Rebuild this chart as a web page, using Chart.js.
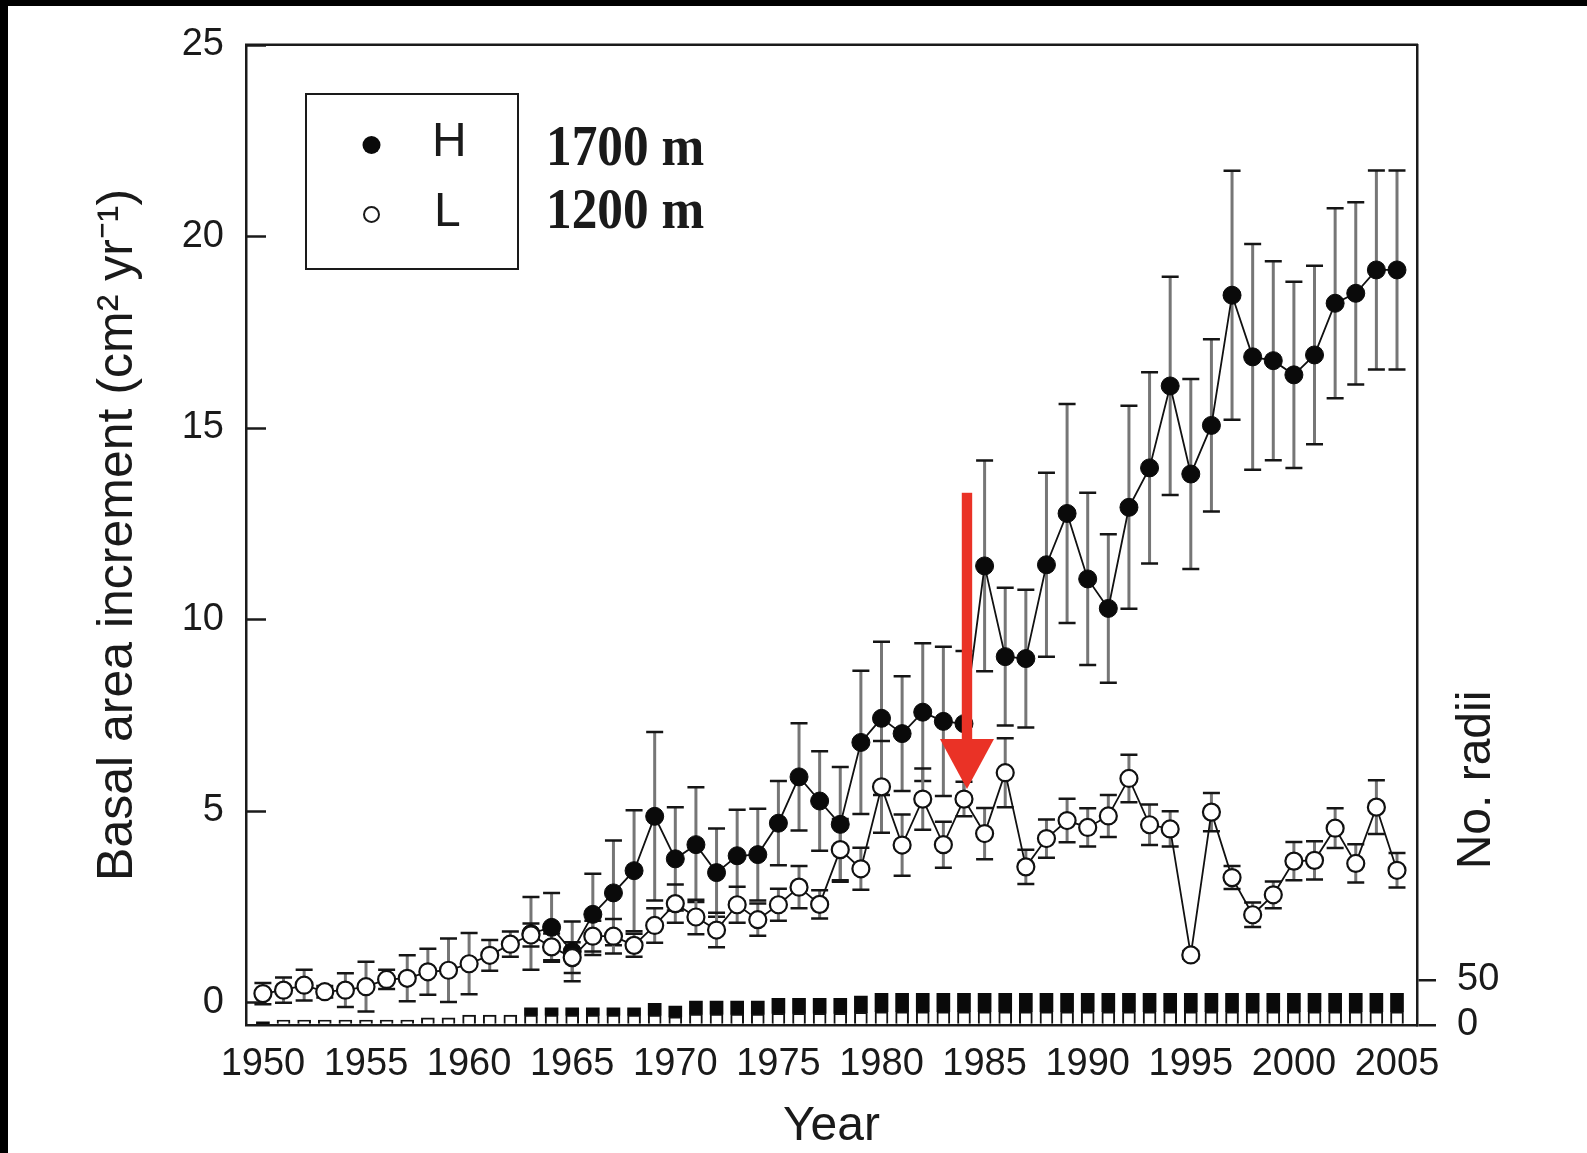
<!DOCTYPE html>
<html><head><meta charset="utf-8">
<script src="https://cdn.jsdelivr.net/npm/chart.js@4.4.1/dist/chart.umd.min.js"></script>
<style>
html,body{margin:0;padding:0;background:#fff;overflow:hidden;}
#wrap{position:relative;width:1587px;height:1153px;}
</style></head><body>
<div id="wrap"><canvas id="c" width="1587" height="1153"></canvas></div>
<script>
// ---------- data ----------
const years = [1950,1951,1952,1953,1954,1955,1956,1957,1958,1959,
  1960,1961,1962,1963,1964,1965,1966,1967,1968,1969,
  1970,1971,1972,1973,1974,1975,1976,1977,1978,1979,
  1980,1981,1982,1983,1984,1985,1986,1987,1988,1989,
  1990,1991,1992,1993,1994,1995,1996,1997,1998,1999,
  2000,2001,2002,2003,2004,2005];
const lowMean = [0.22,0.31,0.44,0.27,0.31,0.40,0.59,0.62,0.79,0.83,
  1.00,1.22,1.51,1.75,1.44,1.16,1.72,1.72,1.48,2.00,
  2.57,2.22,1.88,2.54,2.15,2.54,3.00,2.55,3.98,3.48,
  5.62,4.10,5.30,4.11,5.30,4.40,5.99,3.53,4.27,4.74,
  4.56,4.86,5.84,4.63,4.52,1.23,4.96,3.25,2.28,2.80,
  3.68,3.70,4.54,3.62,5.09,3.44];
const lowErr = [0.28,0.33,0.40,0.15,0.44,0.65,0.25,0.60,0.60,0.83,
  0.80,0.40,0.33,0.30,0.35,0.40,0.40,0.45,0.30,0.45,
  0.50,0.45,0.45,0.47,0.42,0.42,0.55,0.37,0.80,0.55,
  1.20,0.80,0.80,0.60,0.45,0.67,0.90,0.45,0.50,0.57,
  0.50,0.55,0.62,0.53,0.46,0.10,0.50,0.30,0.32,0.35,
  0.50,0.50,0.52,0.50,0.70,0.45];
const highYears = [1963,1964,1965,1966,1967,1968,1969,
  1970,1971,1972,1973,1974,1975,1976,1977,1978,1979,
  1980,1981,1982,1983,1984,1985,1986,1987,1988,1989,
  1990,1991,1992,1993,1994,1995,1996,1997,1998,1999,
  2000,2001,2002,2003,2004,2005];
const highMean = [1.79,1.95,1.32,2.29,2.85,3.43,4.85,
  3.74,4.11,3.38,3.82,3.85,4.67,5.88,5.25,4.64,6.78,
  7.41,7.01,7.57,7.33,7.27,11.39,9.02,8.97,11.42,12.76,
  11.05,10.28,12.92,13.95,16.09,13.79,15.06,18.46,16.85,16.75,
  16.38,16.90,18.25,18.51,19.12,19.12];
const highErr = [0.95,0.90,0.78,1.06,1.37,1.58,2.20,
  1.35,1.50,1.15,1.20,1.20,1.10,1.40,1.30,1.50,1.87,
  2.00,1.50,1.80,1.95,1.90,2.75,1.80,1.80,2.40,2.86,
  2.25,1.94,2.65,2.50,2.85,2.48,2.25,3.25,2.95,2.60,
  2.43,2.33,2.48,2.38,2.60,2.60];
// number of radii per year (stacked: L white below, H black above)
const radiiLow = [null,5.5,5.5,5.5,5.5,5.5,5.5,5.5,8,8,
  11,11,11,11,11,11,11,11,11,11,
  9,12,12,12,12,13,13,13,13,14,
  14.7,14.7,14.7,14.7,14.7,14.7,14.7,14.7,14.7,14.7,
  14.7,14.7,14.7,14.7,14.7,14.7,14.7,14.7,14.7,14.7,
  14.7,14.7,14.7,14.7,14.7,14.7];
const radiiHigh = [3.5,null,null,null,null,null,null,null,null,null,
  null,null,null,8,8,8,8,8,8,13,
  12,14.5,14.5,14.5,14.5,16.4,16.4,16.4,16.4,18,
  20.3,20.3,20.3,20.3,20.3,20.3,20.3,20.3,20.3,20.3,
  20.3,20.3,20.3,20.3,20.3,20.3,20.3,20.3,20.3,20.3,
  20.3,20.3,20.3,20.3,20.3,20.3];
const xTickYears = [1950,1955,1960,1965,1970,1975,1980,1985,1990,1995,2000,2005];
const yTicks = [0,5,10,15,20,25];
const radiiTicks = [0,50];
const legendSites = ['1700 m','1200 m'];
const arrowYear = 1984;

// ---------- chart ----------
const SANS = "'Liberation Sans', Arial, Helvetica, sans-serif";
Chart.defaults.font.family = SANS;
Chart.defaults.color = '#1a1a1a';

const toPts = (xs, vs) => xs.map((x, i) => ({x: x, y: vs[i]}));

const decor = {
  id: 'decor',
  beforeDraw(chart) {
    const c = chart.ctx;
    c.save(); c.fillStyle = '#fff'; c.fillRect(0, 0, chart.width, chart.height); c.restore();
  },
  beforeDatasetsDraw(chart) {
    const {ctx, chartArea: a, scales: {x, y}} = chart;
    ctx.save();
    ctx.strokeStyle = '#1a1a1a'; ctx.lineWidth = 2.5;
    ctx.beginPath(); ctx.moveTo(a.left - 1, a.top); ctx.lineTo(a.right + 1, a.top); ctx.stroke();
    y.ticks.forEach(t => {
      const py = Math.round(y.getPixelForValue(t.value)) + 0.5;
      ctx.beginPath(); ctx.moveTo(a.left, py); ctx.lineTo(a.left + 20, py); ctx.stroke();
    });
    const bars = (xsArr, m, e) => {
      for (let i = 0; i < xsArr.length; i++) {
        const px = x.getPixelForValue(xsArr[i]);
        const t = y.getPixelForValue(m[i] + e[i]);
        const b = y.getPixelForValue(m[i] - e[i]);
        ctx.strokeStyle = '#767676'; ctx.lineWidth = 3;
        ctx.beginPath(); ctx.moveTo(px, t); ctx.lineTo(px, b); ctx.stroke();
        ctx.strokeStyle = '#151515'; ctx.lineWidth = 2.5;
        ctx.beginPath(); ctx.moveTo(px - 8.5, t); ctx.lineTo(px + 8.5, t);
        ctx.moveTo(px - 8.5, b); ctx.lineTo(px + 8.5, b); ctx.stroke();
      }
    };
    bars(highYears, highMean, highErr);
    bars(years, lowMean, lowErr);
    ctx.restore();
  },
  afterDraw(chart) {
    const {ctx, scales: {x, y}} = chart;
    const ds = chart.data.datasets;
    ctx.save();
    // legend box
    ctx.strokeStyle = '#1a1a1a'; ctx.lineWidth = 2;
    ctx.strokeRect(306, 94, 212, 175);
    ctx.fillStyle = '#0a0a0a';
    ctx.beginPath(); ctx.arc(371.5, 145, 9, 0, Math.PI * 2); ctx.fill();
    ctx.fillStyle = '#fff'; ctx.lineWidth = 2;
    ctx.beginPath(); ctx.arc(371.5, 214.5, 7.5, 0, Math.PI * 2); ctx.fill(); ctx.stroke();
    ctx.fillStyle = '#1a1a1a';
    ctx.font = '48px ' + SANS; ctx.textAlign = 'left'; ctx.textBaseline = 'middle';
    ctx.fillText(ds[1].label, 432, 143);
    ctx.fillText(ds[0].label, 434, 213);
    // site labels (bold serif)
    ctx.font = 'bold 57px "Liberation Serif", "Times New Roman", serif';
    [[legendSites[0], 150], [legendSites[1], 213]].forEach(([s, cy]) => {
      ctx.save(); ctx.translate(546, cy); ctx.scale(0.9, 1); ctx.fillText(s, 0, 0); ctx.restore();
    });
    // right axis title
    ctx.save();
    ctx.translate(1477, 780); ctx.rotate(-Math.PI / 2);
    ctx.font = '48px ' + SANS; ctx.textAlign = 'center'; ctx.textBaseline = 'middle';
    ctx.fillText('No. radii', 0, 0);
    ctx.restore();
    // red arrow
    const idx = years.indexOf(arrowYear);
    const ax = x.getPixelForValue(arrowYear) + 3;
    const tip = y.getPixelForValue(lowMean[idx]) - 10;
    const top = y.getPixelForValue(13.3);
    const headLen = 50, headHalf = 27;
    ctx.fillStyle = '#ea3226';
    ctx.fillRect(ax - 5.2, top, 10.4, tip - headLen - top + 1);
    ctx.beginPath(); ctx.moveTo(ax - headHalf, tip - headLen); ctx.lineTo(ax + headHalf, tip - headLen);
    ctx.lineTo(ax, tip); ctx.closePath(); ctx.fill();
    // black frame of the picture
    ctx.fillStyle = '#000';
    ctx.fillRect(0, 0, chart.width, 6);
    ctx.fillRect(0, 0, 8, chart.height);
    ctx.restore();
  }
};

new Chart(document.getElementById('c'), {
  type: 'line',
  data: {
    datasets: [
      {label: 'L', type: 'line', data: toPts(years, lowMean), yAxisID: 'y',
        borderColor: '#111', borderWidth: 1.8, tension: 0,
        pointRadius: 8.5, pointBackgroundColor: '#fff', pointBorderColor: '#111', pointBorderWidth: 2.2, order: 1},
      {label: 'H', type: 'line', data: toPts(highYears, highMean), yAxisID: 'y',
        borderColor: '#111', borderWidth: 1.8, tension: 0,
        pointRadius: 9, pointBackgroundColor: '#0a0a0a', pointBorderColor: '#0a0a0a', pointBorderWidth: 1, order: 2},
      {label: 'L radii', type: 'bar', data: toPts(years, radiiLow), yAxisID: 'y2', stack: 'r',
        backgroundColor: '#fff', borderColor: '#111', borderWidth: 2, barThickness: 13, order: 3},
      {label: 'H radii', type: 'bar', data: toPts(years, radiiHigh), yAxisID: 'y2', stack: 'r',
        backgroundColor: '#0a0a0a', borderColor: '#0a0a0a', borderWidth: 0, barThickness: 13, order: 4}
    ]
  },
  options: {
    responsive: false, animation: false, events: [],
    layout: {padding: {top: 42, left: 0, right: 0, bottom: 0}},
    plugins: {legend: {display: false}, tooltip: {enabled: false}},
    scales: {
      x: {
        type: 'linear', min: 1949.18, max: 2005.97, offset: false,
        afterBuildTicks: s => { s.ticks = xTickYears.map(v => ({value: v})); },
        afterFit: s => { s.height = 128; },
        grid: {display: false, drawTicks: false, offset: false},
        border: {display: true, color: '#1a1a1a', width: 2.5},
        ticks: {font: {size: 38}, padding: 17, maxRotation: 0, autoSkip: false, callback: v => String(v)},
        title: {display: true, text: 'Year', font: {size: 48, lineHeight: 1}, padding: {top: 0, bottom: 2}}
      },
      y: {
        position: 'left', min: -0.6, max: 25,
        afterBuildTicks: s => { s.ticks = yTicks.map(v => ({value: v})); },
        afterFit: s => { s.width = 246; },
        grid: {display: false, drawTicks: false},
        border: {display: true, color: '#1a1a1a', width: 2.5},
        ticks: {font: {size: 38}, padding: 22, callback: v => String(v)},
        title: {display: true, text: 'Basal area increment (cm² yr⁻¹)', font: {size: 50, lineHeight: 1}, padding: {top: 93, bottom: 0}}
      },
      y2: {
        position: 'right', min: 0, max: 1084, stacked: true,
        afterBuildTicks: s => { s.ticks = radiiTicks.map(v => ({value: v})); },
        afterFit: s => { s.width = 170; },
        grid: {display: true, drawOnChartArea: false, drawTicks: true, tickLength: 19, color: '#1a1a1a', lineWidth: 2.5},
        border: {display: true, color: '#1a1a1a', width: 2.5},
        ticks: {font: {size: 38}, padding: 21, callback: v => String(v)}
      }
    }
  },
  plugins: [decor]
});
</script>
</body></html>
